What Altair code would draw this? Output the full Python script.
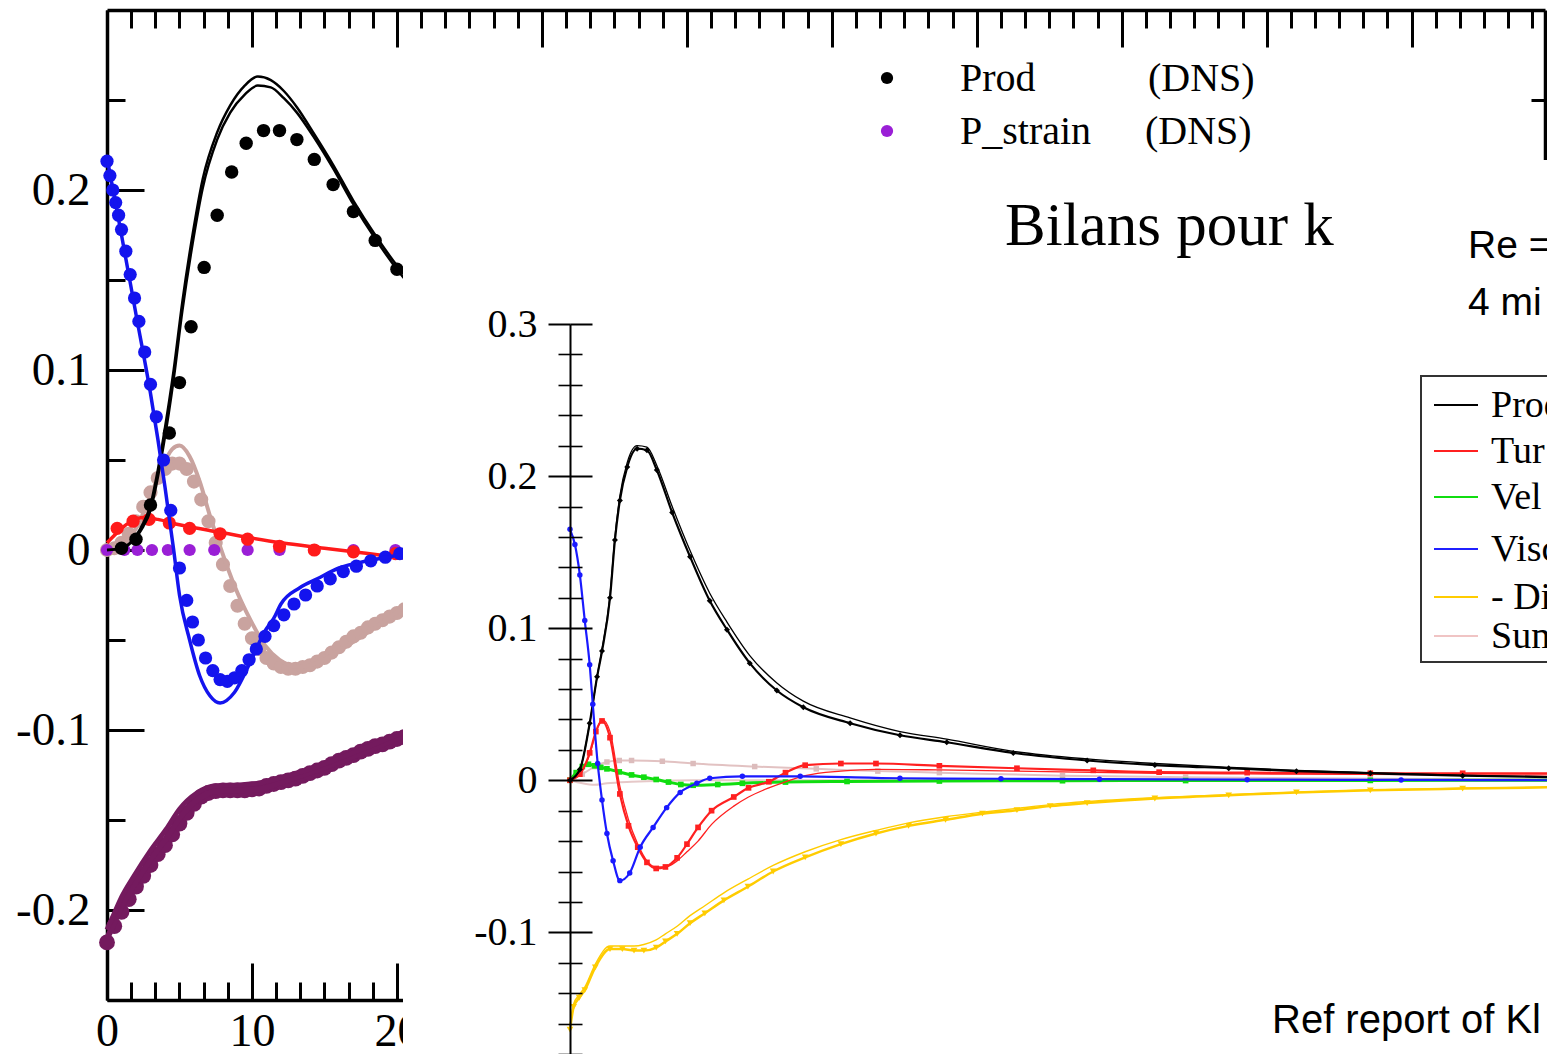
import altair as alt
import pandas as pd

W, H = 1539, 1046

# ---------------- left panel (background figure) ----------------
L_PROD_X = [0, 1, 2, 2.5, 3, 3.4, 3.9, 4.6, 5.2, 5.9, 6.6, 7.6, 8.5, 9.5, 10.4, 11.3, 12.2, 13.1, 14.3, 15.6, 17, 18.5, 20, 21]
L_PROD_A = [0, 0.001, 0.008, 0.015, 0.025, 0.04, 0.063, 0.1, 0.138, 0.175, 0.206, 0.232, 0.247, 0.258, 0.263, 0.261, 0.255, 0.246, 0.231, 0.214, 0.194, 0.175, 0.158, 0.148]
L_PROD_B = [0, 0.001, 0.007, 0.013, 0.022, 0.036, 0.058, 0.095, 0.133, 0.17, 0.201, 0.228, 0.243, 0.253, 0.258, 0.257, 0.251, 0.243, 0.229, 0.212, 0.192, 0.173, 0.156, 0.146]
L_PROD_DNS_X = [1, 2, 3, 4.3, 5.0, 5.8, 6.7, 7.6, 8.6, 9.6, 10.8, 11.9, 13.1, 14.3, 15.6, 17.0, 18.5, 20.0]
L_PROD_DNS_Y = [0.001, 0.006, 0.025, 0.065, 0.093, 0.124, 0.157, 0.186, 0.21, 0.226, 0.233, 0.233, 0.228, 0.217, 0.203, 0.188, 0.172, 0.156]

L_VISC_X = [0, 1, 2, 3, 3.5, 4, 4.6, 5, 5.7, 6.4, 7.1, 7.8, 8.8, 9.9, 10.9, 11.5, 12, 13.3, 14.5, 16, 18, 20, 21]
L_VISC_Y = [0.218, 0.175, 0.131, 0.087, 0.062, 0.035, 0.0, -0.025, -0.05, -0.07, -0.081, -0.085, -0.079, -0.062, -0.045, -0.038, -0.03, -0.021, -0.016, -0.01, -0.006, -0.003, -0.002]
L_VISC_DNS_X = [0, 0.2, 0.4, 0.6, 0.8, 1.0, 1.3, 1.6, 1.9, 2.2, 2.6, 3.0, 3.4, 3.9, 4.4, 5.0, 5.5, 5.9, 6.3, 6.8, 7.3, 7.8, 8.3, 8.8, 9.3, 9.8, 10.3, 10.9, 11.5, 12.2, 12.9, 13.7, 14.5, 15.4, 16.3, 17.2, 18.2, 19.2, 20.2]
L_VISC_DNS_Y = [0.216, 0.208, 0.2, 0.193, 0.186, 0.178, 0.166, 0.153, 0.14, 0.127, 0.11, 0.092, 0.074, 0.05, 0.022, -0.01, -0.028, -0.04, -0.05, -0.06, -0.067, -0.072, -0.073, -0.071, -0.067, -0.061, -0.055, -0.048, -0.042, -0.036, -0.03, -0.025, -0.02, -0.016, -0.012, -0.009, -0.006, -0.004, -0.002]

L_TURB_X = [0, 0.5, 1, 1.7, 2.5, 3.5, 5, 7, 9.7, 12, 15, 18, 20, 21]
L_TURB_Y = [0.004, 0.008, 0.012, 0.016, 0.018, 0.017, 0.014, 0.011, 0.007, 0.004, 0.001, -0.002, -0.004, -0.005]
L_TURB_DNS_X = [0.7, 1.8, 2.9, 4.3, 5.7, 7.8, 9.7, 11.9, 14.3, 17.0, 19.9]
L_TURB_DNS_Y = [0.012, 0.016, 0.017, 0.015, 0.012, 0.009, 0.006, 0.002, 0.0, -0.001, -0.002]

L_PSTRAIN_X = [0, 1.2, 2.1, 3.1, 4.2, 5.7, 7.4, 9.7, 11.9, 14.3, 17.0, 19.9]
L_PSTRAIN_Y = [0, 0, 0, 0, 0, 0, 0, 0, 0, 0, 0, 0]

L_SUM_X = [0, 1, 2, 3, 3.7, 4.5, 5.0, 5.7, 6.4, 7.1, 7.8, 8.8, 9.9, 10.9, 11.9, 13.3, 14.7, 16.4, 18.5, 20.5, 21]
L_SUM_Y = [0, 0.002, 0.012, 0.03, 0.044, 0.056, 0.058, 0.052, 0.038, 0.019, 0.002, -0.02, -0.039, -0.053, -0.061, -0.065, -0.062, -0.054, -0.043, -0.032, -0.03]
L_SUM_DNS_X = [0, 0.5, 1, 1.5, 2, 2.5, 3, 3.5, 4, 4.5, 5, 5.5, 6, 6.5, 7, 7.5, 8, 8.5, 9, 9.5, 10, 10.5, 11, 11.5, 12, 12.5, 13, 13.5, 14, 14.5, 15, 15.5, 16, 16.5, 17, 17.5, 18, 18.5, 19, 19.5, 20, 20.5]
L_SUM_DNS_Y = [0, 0.001, 0.004, 0.009, 0.016, 0.024, 0.032, 0.04, 0.045, 0.048, 0.048, 0.045, 0.038, 0.028, 0.016, 0.004, -0.008, -0.02, -0.031, -0.041, -0.049, -0.055, -0.06, -0.063, -0.065, -0.066, -0.066, -0.065, -0.064, -0.062, -0.06, -0.057, -0.054, -0.051, -0.048, -0.046, -0.043, -0.041, -0.039, -0.037, -0.035, -0.033]

L_DISS_X = [0, 0.5, 1, 1.8, 3, 4.1, 5, 6.2, 7.5, 9, 10.5, 12, 13.5, 15.6, 17.5, 19, 20.2, 21]
L_DISS_A = [-0.216, -0.207, -0.198, -0.187, -0.172, -0.16, -0.149, -0.139, -0.134, -0.1335, -0.133, -0.129, -0.125, -0.119, -0.113, -0.108, -0.104, -0.101]
L_DISS_B = [-0.211, -0.202, -0.193, -0.182, -0.167, -0.155, -0.144, -0.135, -0.131, -0.1305, -0.1295, -0.1265, -0.123, -0.117, -0.111, -0.106, -0.102, -0.099]
L_DISS_DNS_X = [0, 0.5, 1, 1.5, 2, 2.5, 3, 3.5, 4, 4.5, 5, 5.5, 6, 6.5, 7, 7.5, 8, 8.5, 9, 9.5, 10, 10.5, 11, 11.5, 12, 12.5, 13, 13.5, 14, 14.5, 15, 15.5, 16, 16.5, 17, 17.5, 18, 18.5, 19, 19.5, 20, 20.5]
L_DISS_DNS_Y = [-0.218, -0.209, -0.201, -0.194, -0.187, -0.181, -0.175, -0.169, -0.164, -0.158, -0.152, -0.146, -0.141, -0.137, -0.135, -0.134, -0.1335, -0.1335, -0.1335, -0.1335, -0.133, -0.1325, -0.131, -0.13, -0.129, -0.128, -0.127, -0.1255, -0.124, -0.1225, -0.121, -0.119, -0.117, -0.1155, -0.114, -0.112, -0.1105, -0.109, -0.108, -0.1065, -0.105, -0.104]

L_X_MAJOR = [0, 10, 20, 30, 40, 50, 60, 70, 80, 90]
L_X_LABELS = [0, 10, 20]          # the others sit under the overlaid figure
L_X_MINOR = [round(k * 10 / 6, 3) for k in range(60) if k % 6 != 0]
L_Y_MAJOR = [-0.2, -0.1, 0, 0.1, 0.2]
L_Y_MINOR = [-0.25, -0.15, -0.05, 0.05, 0.15, 0.25]

# ---------------- right panel (overlaid figure: Bilans pour k) ----------------
R_PROD_X = [0, 1.6, 3.2, 4.4, 5.2, 6.5, 7.3, 8.1, 9.3, 10.9, 12.5, 14.1, 16.6, 19.5, 22.7, 25.5, 29.2, 33.6, 37.9, 45.5, 53.6, 61.2, 72, 84, 95, 107, 118, 130, 145, 160]
R_PROD_Y = [0, 0.007, 0.0375, 0.068, 0.085, 0.12, 0.158, 0.184, 0.206, 0.218, 0.217, 0.204, 0.176, 0.147, 0.118, 0.099, 0.077, 0.059, 0.048, 0.0375, 0.0296, 0.025, 0.018, 0.013, 0.01, 0.0079, 0.006, 0.0046, 0.003, 0.002]
R_PROD_M = [0, 0.007, 0.0375, 0.068, 0.086, 0.122, 0.16, 0.187, 0.209, 0.22, 0.219, 0.207, 0.18, 0.151, 0.123, 0.104, 0.082, 0.064, 0.052, 0.041, 0.032, 0.027, 0.019, 0.014, 0.011, 0.0085, 0.0065, 0.005, 0.0032, 0.0022]

R_TURB_X = [0, 1.6, 3.2, 4.2, 5.2, 6.5, 8.1, 9.5, 11, 12.5, 14, 15.5, 17.4, 19, 20.8, 23, 26.6, 29, 32.3, 35, 38.2, 44, 49.7, 60, 72.6, 85, 95.7, 110, 130, 145, 160]
R_TURB_Y = [0, 0.004, 0.018, 0.032, 0.039, 0.028, -0.009, -0.03, -0.044, -0.054, -0.058, -0.057, -0.051, -0.042, -0.031, -0.02, -0.011, -0.005, -0.001, 0.005, 0.0099, 0.011, 0.011, 0.0095, 0.0079, 0.0065, 0.0053, 0.005, 0.0046, 0.0046, 0.0046]
R_TURB_M = [0, 0.004, 0.017, 0.031, 0.04, 0.032, -0.004, -0.026, -0.042, -0.053, -0.057, -0.057, -0.053, -0.047, -0.04, -0.029, -0.017, -0.011, -0.005, -0.001, 0.003, 0.006, 0.0072, 0.0068, 0.006, 0.0052, 0.0046, 0.0042, 0.0038, 0.0036, 0.0035]

R_VEL_X = [0, 1, 2, 3, 4, 5, 6, 8, 10, 12, 14, 16, 18, 20, 24, 28, 35, 45, 60, 80, 100, 130, 160]
R_VEL_Y = [0, 0.005, 0.009, 0.0105, 0.0095, 0.0085, 0.0075, 0.0055, 0.0035, 0.002, 0.0005, -0.0012, -0.0028, -0.0033, -0.0028, -0.002, -0.0012, -0.0008, -0.0005, -0.0003, -0.0002, -0.0001, 0]

R_VISC_X = [0, 0.8, 1.6, 2.4, 3.2, 3.7, 4.5, 5.2, 6.0, 7.0, 8.1, 9.7, 11.4, 13.5, 15.7, 17.9, 20.6, 22.7, 28, 37.4, 53.6, 70, 86, 110, 135, 160]
R_VISC_Y = [0.165, 0.155, 0.135, 0.105, 0.076, 0.05, 0.011, -0.013, -0.035, -0.053, -0.066, -0.061, -0.044, -0.031, -0.018, -0.008, -0.002, 0.0013, 0.0026, 0.0026, 0.0013, 0.001, 0.0007, 0.0004, 0.0002, 0]

R_DISS_X = [0, 0.6, 1.5, 2.4, 4.1, 6.5, 8.5, 10.4, 12, 14, 15.5, 17.4, 19.5, 21.9, 25, 28.9, 33, 38.2, 44, 49.7, 55, 61, 67, 72.6, 78, 84, 95, 107, 118, 130, 145, 160]
R_DISS_Y = [-0.164, -0.149, -0.143, -0.138, -0.123, -0.111, -0.111, -0.112, -0.112, -0.11, -0.106, -0.101, -0.094, -0.0875, -0.079, -0.07, -0.06, -0.0507, -0.042, -0.035, -0.03, -0.026, -0.022, -0.0197, -0.017, -0.015, -0.012, -0.0099, -0.008, -0.0066, -0.0055, -0.0046]
R_DISS_M = [-0.162, -0.147, -0.141, -0.136, -0.121, -0.109, -0.109, -0.109, -0.108, -0.105, -0.101, -0.096, -0.089, -0.0825, -0.074, -0.065, -0.056, -0.047, -0.039, -0.033, -0.028, -0.024, -0.021, -0.0185, -0.016, -0.014, -0.0115, -0.0095, -0.0078, -0.0064, -0.0053, -0.0045]

R_SUM_X = [0, 2, 4, 6, 8, 10, 15, 20, 30, 40, 50, 60, 80, 100, 130, 160]
R_SUM_Y = [0, 0.004, 0.009, 0.012, 0.013, 0.013, 0.0125, 0.011, 0.009, 0.0075, 0.006, 0.005, 0.003, 0.002, 0.001, 0.0005]
R_SUM_M_X = [0, 2, 4, 6, 10, 20, 40, 80, 160]
R_SUM_M_Y = [0, -0.002, -0.003, -0.002, -0.001, 0, 0, 0, 0]

R_Y_MAJOR = [-0.1, 0, 0.1, 0.2, 0.3]
R_Y_MINOR = [round(-0.18 + 0.02 * k, 2) for k in range(25) if (k + 1) % 5 != 0]

# texts: only the parts that are visible in the (cropped) original slide
LEFT_LEGEND = ["Prod", "P_strain"]
LEFT_LEGEND_SRC = ["(DNS)", "(DNS)"]
LEFT_LEGEND_COLORS = ["black", "#9a1fd6"]
RIGHT_LEGEND = ["Prod", "Tur", "Vel", "Visc", "- Di", "Sum"]
RIGHT_LEGEND_COLORS = ["black", "#ff2020", "#10dd10", "#2020ff", "#ffcc00", "#f0c4c4"]
TITLE = "Bilans pour k"
NOTE_1 = "Re ="
NOTE_2 = "4 mi"
REF_NOTE = "Ref report of Kl"

SERIF = "Liberation Serif"
SANS = "Liberation Sans"

BLUE, RED, PINK, PLUM, VIOLET = "#1414ee", "#ff1a1a", "#c9a39f", "#741a5e", "#9a1fd6"

LXS = alt.Scale(domain=[0, 99.2], range=[99, 1537], nice=False, zero=False)
LYS = alt.Scale(domain=[-0.25, 0.3], range=[992, 2], nice=False, zero=False)
RXS = alt.Scale(domain=[0, 160], range=[562, 1547], nice=False, zero=False)
RYS = alt.Scale(domain=[-0.18, 0.3], range=[1046, 316], nice=False, zero=False)


def frame(x, y):
    return pd.DataFrame({"x": x, "y": y})


def enc(chart, xs, ys, xaxis=None, yaxis=None):
    return chart.encode(
        x=alt.X("x:Q", scale=xs, axis=xaxis),
        y=alt.Y("y:Q", scale=ys, axis=yaxis),
    )


def lline(x, y, color, sw=3.0, xaxis=None, yaxis=None):
    return enc(alt.Chart(frame(x, y)).mark_line(color=color, strokeWidth=sw, interpolate="monotone"),
               LXS, LYS, xaxis, yaxis)


def ldots(x, y, color, size=165):
    return enc(alt.Chart(frame(x, y)).mark_circle(color=color, size=size, opacity=1), LXS, LYS)


def rline(x, y, color, sw=1.3):
    return enc(alt.Chart(frame(x, y)).mark_line(color=color, strokeWidth=sw, interpolate="monotone", clip=True),
               RXS, RYS)


def rpts(x, y, color, size=16, shape="square"):
    return enc(alt.Chart(frame(x, y)).mark_point(color=color, size=size, filled=True, opacity=1, shape=shape, clip=True),
               RXS, RYS)


def carrier(xs, ys, xaxis=None, yaxis=None):
    return enc(alt.Chart(frame(L_PROD_X, [0] * len(L_PROD_X))).mark_point(opacity=0), xs, ys, xaxis, yaxis)


def tick_axis(orient, offset, values, size, domain=False, width=3.0, z=0):
    return alt.Axis(orient=orient, offset=offset, values=values, tickSize=size, tickWidth=width,
                    tickColor="black", labels=False, domain=domain, domainWidth=3.5, domainColor="black",
                    grid=False, title=None, zindex=z)


lab_common = dict(labelFont=SERIF, labelColor="black", labelFlush=False, labelOverlap=False,
                  grid=False, title=None, ticks=False, tickSize=0)

lx_labels = alt.Axis(orient="bottom", offset=-(H - 992), values=L_X_LABELS, labelFontSize=46, labelPadding=9,
                     domain=True, domainWidth=3.5, domainColor="black", format="d", zindex=0, **lab_common)
ly_labels = alt.Axis(orient="left", offset=-99, values=L_Y_MAJOR, labelFontSize=47, labelPadding=17,
                     domain=True, domainWidth=3.5, domainColor="black", zindex=0,
                     labelExpr="datum.value == 0 ? '0' : (datum.value < 0 ? '-' : '') + format(abs(datum.value), '.1f')",
                     **lab_common)

left_layers = [
    carrier(LXS, LYS, lx_labels, ly_labels),
    carrier(LXS, LYS, tick_axis("top", -992, L_X_MAJOR, 37), tick_axis("right", 99 - W, L_Y_MAJOR, 37)),
    carrier(LXS, LYS, tick_axis("top", -992, L_X_MINOR, 18), tick_axis("right", 99 - W, L_Y_MINOR, 18)),
    carrier(LXS, LYS, tick_axis("bottom", 2 - H, L_X_MAJOR, 37, domain=True), tick_axis("left", -1537, L_Y_MAJOR, 14, domain=True)),
    carrier(LXS, LYS, tick_axis("bottom", 2 - H, L_X_MINOR, 18), tick_axis("left", -1537, L_Y_MINOR, 14)),
    # dissipation-like band (plum)
    ldots(L_DISS_DNS_X, L_DISS_DNS_Y, PLUM, 250),
    lline(L_DISS_X, L_DISS_A, PLUM, 6),
    lline(L_DISS_X, L_DISS_B, PLUM, 5),
    # sum (rosy)
    ldots(L_SUM_DNS_X, L_SUM_DNS_Y, PINK, 200),
    lline(L_SUM_X, L_SUM_Y, PINK, 4),
    # p_strain
    ldots(L_PSTRAIN_X, L_PSTRAIN_Y, VIOLET, 150),
    # turbulent diffusion
    lline(L_TURB_X, L_TURB_Y, RED, 3.5),
    ldots(L_TURB_DNS_X, L_TURB_DNS_Y, RED, 175),
    # production
    lline(L_PROD_X, L_PROD_A, "black", 2.5),
    lline(L_PROD_X, L_PROD_B, "black", 2.5),
    ldots(L_PROD_DNS_X, L_PROD_DNS_Y, "black", 180),
    # viscous diffusion
    ldots(L_VISC_DNS_X, L_VISC_DNS_Y, BLUE, 175),
    lline(L_VISC_X, L_VISC_Y, BLUE, 3.5),
]

# white panel of the overlaid figure
panel = alt.Chart(pd.DataFrame({"a": [0]})).mark_rect(color="white", opacity=1).encode(
    x=alt.value(395), x2=alt.value(W), y=alt.value(152), y2=alt.value(H))

r_labels = alt.Axis(orient="left", offset=-562, values=R_Y_MAJOR, labelFont=SERIF, labelFontSize=40,
                    labelColor="black", labelPadding=11, labelFlush=False, labelOverlap=False,
                    tickSize=22, tickWidth=2, tickColor="black", domain=True, domainWidth=2,
                    domainColor="black", grid=False, title=None, zindex=1,
                    labelExpr="datum.value == 0 ? '0' : (datum.value < 0 ? '-' : '') + format(abs(datum.value), '.1f')")

right_layers = [
    carrier(RXS, RYS, None, r_labels),
    carrier(RXS, RYS, None, tick_axis("right", 562 - W, R_Y_MAJOR, 22, width=2, z=1)),
    carrier(RXS, RYS, None, tick_axis("left", -562, R_Y_MINOR, 12, width=1.6, z=1)),
    carrier(RXS, RYS, None, tick_axis("right", 562 - W, R_Y_MINOR, 12, width=1.6, z=1)),
    rline(R_SUM_M_X, R_SUM_M_Y, "#e6c8c8", 2),
    rline(R_SUM_X, R_SUM_Y, "#e2c2c2", 2),
    rpts(R_SUM_X, R_SUM_Y, "#dcbcbc", 30),
    rline(R_DISS_X, R_DISS_M, "#ffcc00", 1.4),
    rline(R_DISS_X, R_DISS_Y, "#ffcc00", 2.5),
    rpts(R_DISS_X, R_DISS_Y, "#ffcc00", 45, "triangle-down"),
    rline(R_VEL_X, R_VEL_Y, "#10dd10", 3),
    rpts(R_VEL_X, R_VEL_Y, "#10dd10", 32),
    rline(R_TURB_X, R_TURB_M, "#ff2020", 1.3),
    rline(R_TURB_X, R_TURB_Y, "#ff2020", 2.2),
    rpts(R_TURB_X, R_TURB_Y, "#ff2020", 32),
    rline(R_PROD_X, R_PROD_M, "black", 1.3),
    rline(R_PROD_X, R_PROD_Y, "black", 2.2),
    rpts(R_PROD_X, R_PROD_Y, "black", 36, "diamond"),
    rline(R_VISC_X, R_VISC_Y, "#1a1aff", 2.2),
    rpts(R_VISC_X, R_VISC_Y, "#1a1aff", 30, "circle"),
]


def txt(s, x, y, size, font, align="left", baseline="alphabetic"):
    return alt.Chart(pd.DataFrame({"t": [s]})).mark_text(
        align=align, baseline=baseline, font=font, fontSize=size, color="black").encode(
        x=alt.value(x), y=alt.value(y), text="t:N")


ann = []
# legend of the background figure
for i, (lab, src, col) in enumerate(zip(LEFT_LEGEND, LEFT_LEGEND_SRC, LEFT_LEGEND_COLORS)):
    yy = 70 + 53 * i
    ann.append(alt.Chart(pd.DataFrame({"a": [0]})).mark_circle(color=col, size=150, opacity=1).encode(
        x=alt.value(879), y=alt.value(yy)))
    ann.append(txt(lab, 952, yy + 13, 40, SERIF))
    ann.append(txt(src, 1140 - 3 * i, yy + 13, 40, SERIF))

ann.append(txt(TITLE, 997, 237, 61, SERIF))
ann.append(txt(NOTE_1, 1460, 250, 39, SANS))
ann.append(txt(NOTE_2, 1460, 307, 39, SANS))
ann.append(txt(REF_NOTE, 1264, 1025, 40, SANS))

# legend box of the overlaid figure
ann.append(alt.Chart(pd.DataFrame({"a": [0]})).mark_rect(fill="white", stroke="#333333", strokeWidth=2).encode(
    x=alt.value(1413), x2=alt.value(1600), y=alt.value(368), y2=alt.value(654)))
R_LEG_Y = [397, 443, 489, 541, 589, 628]
for lab, col, yy in zip(RIGHT_LEGEND, RIGHT_LEGEND_COLORS, R_LEG_Y):
    ann.append(alt.Chart(pd.DataFrame({"a": [0]})).mark_rule(color=col, strokeWidth=2).encode(
        x=alt.value(1426), x2=alt.value(1470), y=alt.value(yy)))
    ann.append(txt(lab, 1483, yy + 12, 38, SERIF))

chart = alt.layer(*left_layers, panel, *right_layers, *ann).resolve_scale(
    x="independent", y="independent").properties(
    width=W, height=H, autosize=alt.AutoSizeParams(type="none"), padding=0,
    background="white").configure_view(stroke=None)

chart.save("out.html", embed_options={"renderer": "svg", "actions": False})
